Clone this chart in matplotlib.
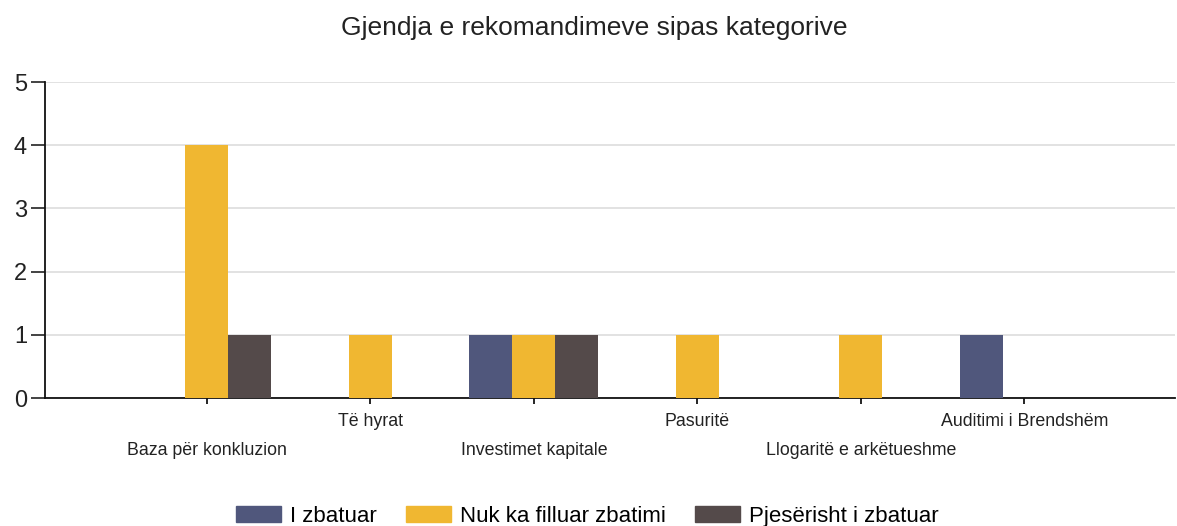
import numpy as np
import matplotlib
matplotlib.use('Agg')
import matplotlib.pyplot as plt
from matplotlib.patches import Patch

plt.rcParams['font.family'] = ['Liberation Sans', 'DejaVu Sans']

categories = ['Baza për konkluzion', 'Të hyrat', 'Investimet kapitale',
              'Pasuritë', 'Llogaritë e arkëtueshme', 'Auditimi i Brendshëm']
series_names = ['I zbatuar', 'Nuk ka filluar zbatimi', 'Pjesërisht i zbatuar']
i_zbatuar = [0, 0, 1, 0, 0, 1]
nuk_ka_filluar = [4, 1, 1, 1, 1, 0]
pjeserisht = [1, 0, 1, 0, 0, 0]
colors = ['#50577c', '#f0b731', '#544a4a']

fig = plt.figure(figsize=(11.77, 5.26), dpi=100)
ax = fig.add_axes([0.0382, 0.2433, 0.96, 0.6008])

x = np.arange(len(categories))
w = 0.263
for k, (vals, c) in enumerate(zip([i_zbatuar, nuk_ka_filluar, pjeserisht], colors)):
    ax.bar(x + (k - 1) * w, vals, width=w, color=c, zorder=3)

ax.set_xlim(-0.99, 5.92)
ax.set_ylim(0, 5)
ax.set_yticks(range(6))
ax.yaxis.grid(True, color='#dddddd', lw=1.2, zorder=0)
ax.tick_params(axis='y', labelsize=17, length=10, width=1.2, pad=3, colors='#222222')
ax.set_xticks(x)
ax.set_xticklabels([])
ax.tick_params(axis='x', length=4.5, width=1.2)
for s in ['top', 'right']:
    ax.spines[s].set_visible(False)
for s in ['left', 'bottom']:
    ax.spines[s].set_linewidth(1.3)
    ax.spines[s].set_color('#111111')

# staggered category labels
for i, lab in enumerate(categories):
    yoff = -0.073 if i % 2 else -0.165
    ax.text(i, yoff, lab, transform=ax.get_xaxis_transform(), ha='center', va='center',
            fontsize=12.8, color='#222222')

fig.text(0.505, 0.947, 'Gjendja e rekomandimeve sipas kategorive', ha='center', va='center',
         fontsize=19, color='#222222')

handles = [Patch(color=c) for c in colors]
fig.legend(handles, series_names, loc='center', bbox_to_anchor=(0.499, 0.019), ncol=3,
           frameon=False, fontsize=16, handlelength=2.05, handleheight=0.73,
           columnspacing=1.3, handletextpad=0.4, borderpad=0.1)

fig.savefig('out.png', dpi=100)
